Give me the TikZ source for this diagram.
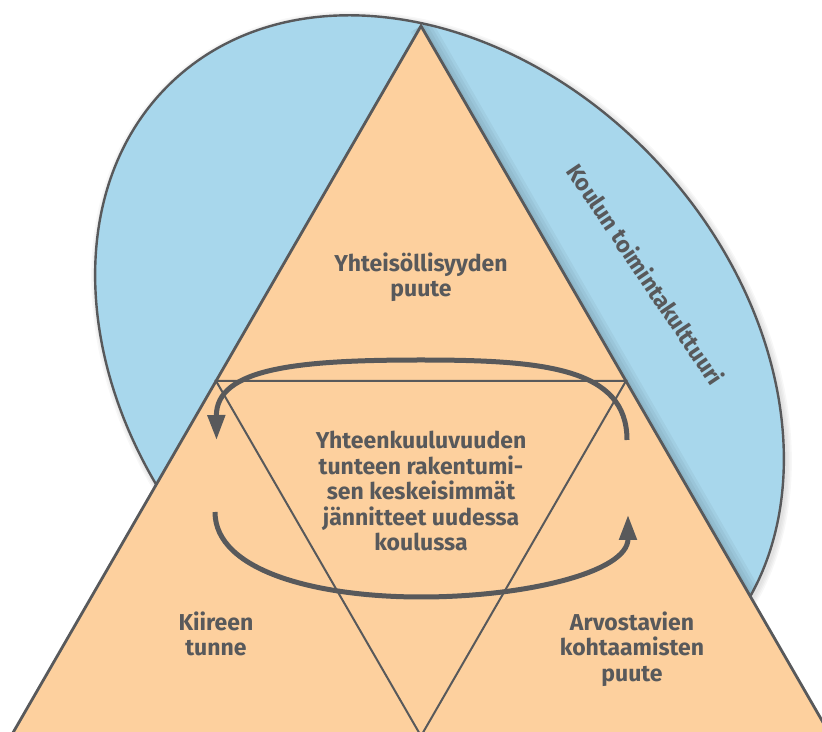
\documentclass[tikz,border=0pt]{standalone}
\usepackage{fontspec}
\setmainfont{Fira Sans}
\usepackage{tikz}
\usetikzlibrary{arrows.meta, positioning}
\definecolor{koulublue}{HTML}{A8D7EC}
\definecolor{kouluorange}{HTML}{FDD09E}
\definecolor{koululine}{HTML}{58595B}
\tikzstyle{textlabel} = [align=center, text=koululine, inner sep=0pt, font=\bfseries\fontsize{23}{25.5}\selectfont]
\tikzstyle{edgeline} = [draw=koululine, line width=2.8pt, line join=miter]
\tikzstyle{innerline} = [draw=koululine, line width=2pt]
\tikzstyle{looparrow} = [draw=koululine, line width=5pt, -{Triangle[length=25pt, width=17pt]}]

\begin{document}
\begin{tikzpicture}[x=1pt, y=1pt]
\clip (0,0) rectangle (822,731);
\coordinate (apex) at (421,705);
\coordinate (bl) at (11.1,-5);
\coordinate (br) at (830.9,-5);
\coordinate (ml) at (216.05,350);
\coordinate (mr) at (625.95,350);
\coordinate (mb) at (421,-5);
\coordinate (rcol) at (632,0);

% faint shadow round the ellipse
\foreach \w in {3,6,9,12}
  \draw[black, opacity=0.03, line width=\w pt, rotate around={-47.3:(441.5,362)}] (441.5,362) ellipse [x radius=391pt, y radius=299pt];
\draw[fill=koulublue, draw=koululine, line width=2.4pt, rotate around={-47.3:(439.5,364)}] (439.5,364) ellipse [x radius=391pt, y radius=299pt];

% shadow of the triangle, only on the blue part
\begin{scope}
\clip[rotate around={-47.3:(439.5,364)}] (439.5,364) ellipse [x radius=390pt, y radius=298pt];
\foreach \w in {6,12,18,24}
  \draw[black, opacity=0.04, line width=\w pt] (apex) -- (br);
\end{scope}

\draw[edgeline, fill=kouluorange] (apex) -- (br) -- (bl) -- cycle;
\draw[innerline] (ml) -- (mr) -- (mb) -- cycle;

% the two halves of the cycle
\draw[looparrow] (627,291) .. controls (627,363) and (544,371) .. (421,371)
  .. controls (298,371) and (216,363) .. (216.5,291);
\draw[looparrow] (215,219) .. controls (215,159.5) and (318,134) .. (421,134)
  .. controls (524.5,134) and (628,158.6) .. (628,216);

\node[textlabel] (lack) at (421,454) {Yhteisöllisyyden\\puute};
\node[textlabel] (core) at (421,240) {Yhteenkuuluvuuden\\tunteen rakentumi-\\sen keskeisimmät\\jännitteet uudessa\\koulussa};
\node[textlabel] (rush) at (216,97) {Kiireen\\tunne};
\node[textlabel, anchor=north] (respect) at (rush.north -| rcol) {Arvostavien\\kohtaamisten\\puute};
\node[textlabel, rotate=-56] (culture) at (646,457) {Koulun toimintakulttuuri};
\end{tikzpicture}
\end{document}
